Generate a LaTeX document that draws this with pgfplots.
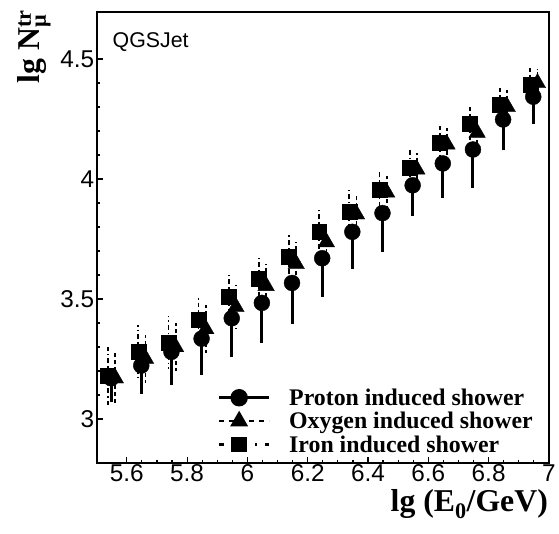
\documentclass[border=0pt]{standalone}
\usepackage{amsmath}
\usepackage{fontspec}
\setmainfont{Liberation Serif}
\newfontfamily\hel{Liberation Sans}
\usepackage{pgfplots}
\pgfplotsset{compat=1.18}
\usepackage{pgfplotstable}

% x  y  err
\pgfplotstableread{
x      y      ey
5.548  3.170  0.10
5.648  3.223  0.12
5.748  3.280  0.14
5.848  3.335  0.15
5.948  3.420  0.16
6.048  3.484  0.165
6.148  3.567  0.17
6.248  3.670  0.16
6.348  3.780  0.155
6.448  3.858  0.16
6.548  3.974  0.13
6.648  4.065  0.145
6.748  4.123  0.16
6.848  4.248  0.125
6.948  4.343  0.115
}\proton

\pgfplotstableread{
x      y      ey
5.562  3.170  0.11
5.662  3.252  0.10
5.762  3.300  0.10
5.862  3.375  0.10
5.962  3.467  0.09
6.062  3.555  0.09
6.162  3.646  0.09
6.262  3.737  0.08
6.362  3.853  0.08
6.462  3.944  0.07
6.562  4.040  0.07
6.662  4.144  0.07
6.762  4.193  0.07
6.862  4.300  0.07
6.962  4.400  0.06
}\oxygen

\pgfplotstableread{
x      y      ey
5.538  3.180  0.12
5.638  3.281  0.11
5.738  3.320  0.11
5.838  3.413  0.10
5.938  3.510  0.10
6.038  3.583  0.09
6.138  3.675  0.09
6.238  3.780  0.09
6.338  3.865  0.09
6.438  3.956  0.08
6.538  4.049  0.07
6.638  4.152  0.07
6.738  4.231  0.07
6.838  4.310  0.07
6.938  4.393  0.07
}\iron

\begin{document}
\begin{tikzpicture}
\begin{axis}[
    scale only axis,
    width=454bp, height=453bp,
    xmin=5.5, xmax=7, ymin=2.816, ymax=4.696,
    xtick={5.6,5.8,6,6.2,6.4,6.6,6.8,7},
    ytick={3,3.5,4,4.5},
    minor x tick num=3,
    minor y tick num=4,
    xtick pos=bottom, ytick pos=left,
    tick align=inside,
    major tick length=6bp, minor tick length=3.5bp,
    every tick/.style={black, line width=1.2bp},
    axis line style={line width=1.8bp},
    /pgf/number format/assume math mode=true,
    /pgf/number format/fixed,
    /pgf/number format/precision=1,
    ticklabel style={font=\hel\fontsize{24.5}{24.5}\selectfont},
    xticklabel style={yshift=2bp},
    yticklabel style={xshift=1bp},
    xlabel={lg (E$_{\text{0}}$/GeV)},
    ylabel={lg N$^{\text{tr}}_{\text{μ}}$},
    label style={font=\bfseries\fontsize{32}{32}\selectfont, inner sep=0pt},
    xlabel style={at={(axis description cs:0.998,-0.108)}, anchor=base east},
    ylabel style={at={(axis description cs:-0.1256,1.0044)}, anchor=base east},
    clip=false,
    legend cell align=left,
    legend style={
        draw=none, fill=none, inner sep=0pt, row sep=1.5bp, column sep=17bp,
        font=\bfseries\fontsize{24}{24}\selectfont,
        at={(axis description cs:0.969,0.170)}, anchor=north east,
    },
    legend image code/.code={
        \draw[#1, mark=none] (0bp,0bp) -- (50bp,0bp);
        \draw[#1, only marks] plot coordinates {(20bp,0bp)};
    },
]

\path (rel axis cs:-0.2137,-0.1567) rectangle (rel axis cs:1.0176,1.0265);

\addplot[forget plot, only marks, mark=*, mark size=8bp, black,
    error bars/.cd, y dir=minus, y explicit, error mark=none,
    error bar style={line width=3bp}]
    table[x=x, y=y, y error=ey] {\proton};

\addplot[forget plot, only marks, mark=triangle*, mark size=9.5bp, black,
    error bars/.cd, y dir=both, y explicit, error mark=none,
    error bar style={line width=1.8bp, dash pattern=on 4bp off 3bp}]
    table[x=x, y=y, y error=ey] {\oxygen};

\addplot[forget plot, only marks, mark=square*, mark size=7.5bp, black,
    error bars/.cd, y dir=both, y explicit, error mark=none,
    error bar style={line width=1.8bp, dash pattern=on 5bp off 3bp on 1.5bp off 3bp}]
    table[x=x, y=y, y error=ey] {\iron};

\addlegendimage{black, line width=2.5bp, mark=*, mark size=7.5bp}
\addlegendentry{Proton induced shower}
\addlegendimage{black, line width=2.5bp, dash pattern=on 5bp off 5bp, mark=triangle*, mark size=8bp, mark options={solid}}
\addlegendentry{Oxygen induced shower}
\addlegendimage{black, line width=2.5bp, dash pattern=on 5bp off 8bp on 2bp off 8bp, mark=square*, mark size=6.5bp, mark options={solid}}
\addlegendentry{Iron induced shower}

\node[font=\hel\fontsize{21.5}{21.5}\selectfont, anchor=base west, inner sep=0pt]
    at (axis description cs:0.035,0.9205) {QGSJet};

\end{axis}
\end{tikzpicture}
\end{document}
